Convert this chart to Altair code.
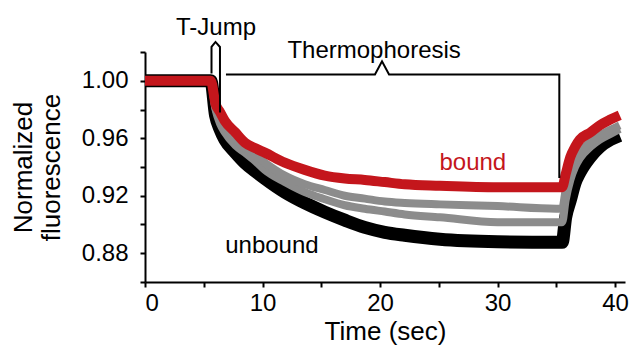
import altair as alt
import pandas as pd

FONT = "Liberation Sans"

# Time axis (seconds) shared by every trace
time_s = [0, 2, 4, 5.6, 6.0, 6.4, 6.8, 7.7, 8.5, 9.4, 10.2, 11.9, 13.6, 15.3,
          17.0, 18.7, 20.4, 22.1, 25.1, 30.0, 35.0, 35.5, 35.8, 36.2, 36.6,
          37.0, 37.9, 38.7, 39.6, 40.4]

# Normalized fluorescence traces
unbound = [1.0, 1.0, 1.0, 1.0, 0.976, 0.966, 0.959, 0.950, 0.943, 0.937, 0.932,
           0.9225, 0.915, 0.9086, 0.903, 0.898, 0.8946, 0.8925, 0.8897, 0.888,
           0.8876, 0.8876, 0.905, 0.917, 0.929, 0.936, 0.947, 0.954, 0.959, 0.962]
mid_low = [1.0, 1.0, 1.0, 1.0, 0.980, 0.970, 0.964, 0.955, 0.950, 0.944, 0.938,
           0.9295, 0.9225, 0.9176, 0.9134, 0.911, 0.909, 0.907, 0.905, 0.9016,
           0.9016, 0.9016, 0.917, 0.931, 0.940, 0.946, 0.954, 0.959, 0.963, 0.9665]
mid_high = [1.0, 1.0, 1.0, 1.0, 0.981, 0.973, 0.967, 0.959, 0.953, 0.948, 0.943,
            0.934, 0.928, 0.924, 0.920, 0.918, 0.916, 0.915, 0.914, 0.9128,
            0.911, 0.911, 0.924, 0.9365, 0.945, 0.950, 0.9574, 0.962, 0.9658, 0.969]
bound = [1.0, 1.0, 1.0, 1.0, 0.984, 0.978, 0.972, 0.964, 0.957, 0.953, 0.950,
         0.943, 0.938, 0.934, 0.932, 0.931, 0.9295, 0.928, 0.927, 0.926, 0.926,
         0.926, 0.935, 0.947, 0.954, 0.959, 0.964, 0.969, 0.973, 0.976]

# Bracket outlines (time, fluorescence)
tjump_t = [5.66, 5.66, 6.0, 6.38, 6.38]
tjump_v = [1.005, 1.0235, 1.027, 1.0235, 0.978]
thermo_t = [6.89, 19.57, 20.17, 20.77, 35.26, 35.26]
thermo_v = [1.0043, 1.0043, 1.0135, 1.0043, 1.0043, 0.9323]

# Text labels
label_text = ["T-Jump", "Thermophoresis", "bound", "unbound"]
label_t = [6.04, 19.5, 27.9, 10.8]
label_v = [1.0321, 1.016, 0.9379, 0.880]
label_color = ["black", "black", "#c4161c", "black"]

X_DOM = [0, 40.85]
Y_DOM = [0.86, 1.02]

# labelled (major) ticks are every 0.04; the others are minor
Y_MAJOR_TEST = ("abs(datum.value - 0.88) < 0.005 || abs(datum.value - 0.92) < 0.005 || "
                "abs(datum.value - 0.96) < 0.005 || abs(datum.value - 1) < 0.005")

x_axis = alt.Axis(
    values=[0, 5, 10, 15, 20, 25, 30, 35, 40],
    labelExpr="datum.value % 10 === 0 ? datum.label : ''",
    tickSize=5,
    title="Time (sec)", titleFontSize=26, titlePadding=3,
    labelFontSize=24, labelPadding=4, labelOverlap=False, grid=False,
)
y_axis = alt.Axis(
    values=[0.86, 0.88, 0.90, 0.92, 0.94, 0.96, 0.98, 1.00, 1.02],
    format=".2f",
    labelExpr="(" + Y_MAJOR_TEST + ") ? datum.label : ''",
    tickSize=5,
    title=["Normalized", "fluorescence"], titleFontSize=26, titlePadding=17,
    labelFontSize=24, labelPadding=12, labelOverlap=False, grid=False,
)

x_enc = alt.X("t:Q", scale=alt.Scale(domain=X_DOM, nice=False, zero=False), axis=x_axis)
y_enc = alt.Y("v:Q", scale=alt.Scale(domain=Y_DOM, nice=False, zero=False), axis=y_axis)

layers = []
for vals, color, width in [
    (unbound, "#000000", 13),
    (mid_low, "#8c8c8c", 8),
    (mid_high, "#8c8c8c", 8),
    (bound, "#c4161c", 10),
]:
    df = pd.DataFrame({"t": time_s, "v": vals})
    layers.append(
        alt.Chart(df).mark_line(color=color, strokeWidth=width, interpolate="monotone")
        .encode(x=x_enc, y=y_enc)
    )

for bt, bv in [(tjump_t, tjump_v), (thermo_t, thermo_v)]:
    df = pd.DataFrame({"t": bt, "v": bv, "o": list(range(len(bt)))})
    layers.append(
        alt.Chart(df).mark_line(color="black", strokeWidth=2)
        .encode(x=x_enc, y=y_enc, order="o:Q")
    )

labels_df = pd.DataFrame({"text": label_text, "t": label_t, "v": label_v, "c": label_color})
layers.append(
    alt.Chart(labels_df).mark_text(font=FONT, fontSize=24, baseline="alphabetic", align="center")
    .encode(x=x_enc, y=y_enc, text="text:N", color=alt.Color("c:N", scale=None))
)

chart = alt.layer(*layers).properties(
    width=480, height=230,
    autosize=alt.AutoSizeParams(type="none"),
    padding={"left": 145, "top": 52, "right": 9, "bottom": 67},
).configure_view(stroke=None).configure_axis(
    domainColor="black", domainWidth=2, tickColor="black", tickWidth=2,
    labelColor="black", titleColor="black", labelFont=FONT, titleFont=FONT,
    titleFontWeight="normal",
)

chart.save("out.html", embed_options={"renderer": "svg", "actions": False})
